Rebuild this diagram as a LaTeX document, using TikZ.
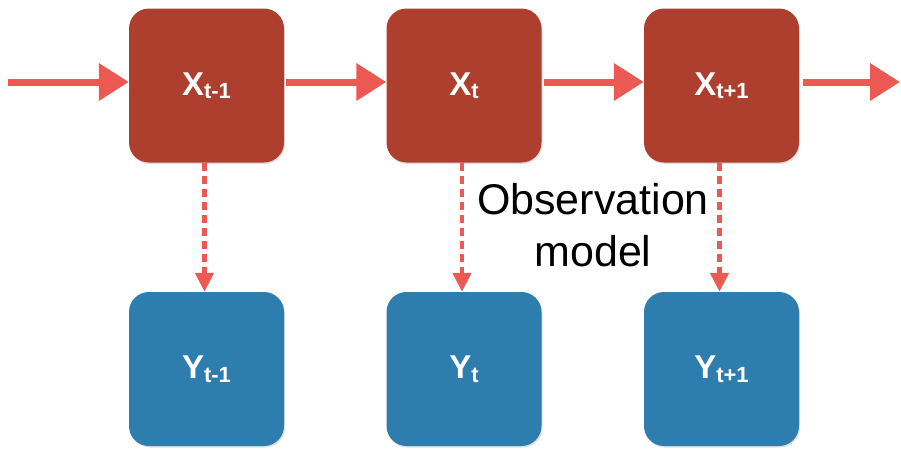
\documentclass[tikz,border=0pt]{standalone}
\usepackage{fontspec}
\setmainfont{Liberation Sans}
\usetikzlibrary{arrows.meta,shadows}
\definecolor{boxred}{RGB}{174,62,46}
\definecolor{boxblue}{RGB}{45,125,174}
\definecolor{arrowred}{RGB}{236,88,82}
\newcommand{\lbl}[2]{\fontsize{33}{33}\selectfont\bfseries #1{\fontsize{22}{22}\selectfont\raisebox{-3.5pt}{#2}}}
\begin{document}
\begin{tikzpicture}[x=1pt,y=-1pt,
  cardbox/.style={minimum width=155pt,minimum height=154pt,inner sep=0pt,
    rounded corners=20pt,text=white,
    drop shadow={opacity=0.25,shadow xshift=1pt,shadow yshift=-1.5pt}},
  statebox/.style={cardbox,fill=boxred},
  obsbox/.style={cardbox,fill=boxblue},
  flowarrow/.style={draw=arrowred,line width=7pt,
    -{Triangle[length=30pt,width=36pt]}},
  obsarrow/.style={draw=arrowred,line width=4.5pt,dash pattern=on 8pt off 5pt,
    -{Triangle[length=19pt,width=18pt]}},
  note/.style={font=\fontsize{43}{52}\selectfont,align=center,inner sep=0pt}]
\useasboundingbox (0,0) rectangle (901,448);
\node[statebox] (x1) at (206.5,85.5) {\lbl{X}{t-1}};
\node[statebox] (x2) at (464,85.5) {\lbl{X}{t}};
\node[statebox] (x3) at (721.5,85.5) {\lbl{X}{t+1}};
\node[obsbox] (y1) at (206.5,369) {\lbl{Y}{t-1}};
\node[obsbox] (y2) at (464,369) {\lbl{Y}{t}};
\node[obsbox] (y3) at (721.5,369) {\lbl{Y}{t+1}};
\coordinate (s) at (8,82);
\coordinate (e) at (900,82);
\draw[flowarrow] (s) -- ([yshift=3.5pt]x1.west);
\draw[flowarrow,shorten <=2pt] ([yshift=3.5pt]x1.east) -- ([yshift=3.5pt]x2.west);
\draw[flowarrow,shorten <=2pt] ([yshift=3.5pt]x2.east) -- ([yshift=3.5pt]x3.west);
\draw[flowarrow,shorten <=4pt] ([yshift=3.5pt]x3.east) -- (e);
\draw[obsarrow] ([xshift=-2pt]x1.south) -- ([xshift=-2pt]y1.north);
\draw[obsarrow] ([xshift=-2pt]x2.south) -- ([xshift=-2pt]y2.north);
\draw[obsarrow] ([xshift=-2pt]x3.south) -- ([xshift=-2pt]y3.north);
\node[note] (om) at (593,225) {Observation\\model};
\end{tikzpicture}
\end{document}
